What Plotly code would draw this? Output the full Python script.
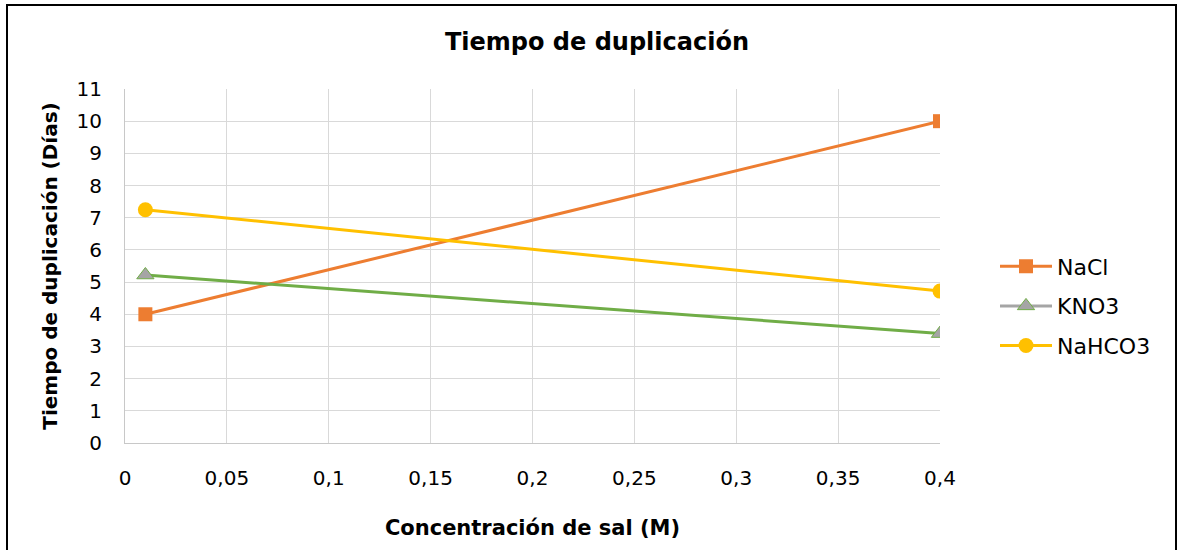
import plotly.graph_objects as go

x_vals = [0.01, 0.4]
nacl = [4.0, 10.0]
kno3 = [5.22, 3.4]
nahco3 = [7.25, 4.72]

title_text = "Tiempo de duplicación"
x_title = "Concentración de sal (M)"
y_title = "Tiempo de duplicación (Días)"

ORANGE = "#ED7D31"
GRAY = "#A5A5A5"
YELLOW = "#FFC000"
GREEN = "#70AD47"
FONT = "DejaVu Sans, Arial, sans-serif"

fig = go.Figure()
fig.add_trace(go.Scatter(x=x_vals, y=nacl, name="NaCl", mode="lines+markers",
                         legendgroup="a",
                         line=dict(color=ORANGE, width=3),
                         marker=dict(symbol="square", size=14, color=ORANGE)))
fig.add_trace(go.Scatter(x=x_vals, y=kno3, name="KNO3", mode="lines+markers",
                         legendgroup="b",
                         line=dict(color=GREEN, width=3), showlegend=False,
                         marker=dict(symbol="triangle-up", size=15, color=GRAY,
                                     line=dict(color=GREEN, width=1))))
fig.add_trace(go.Scatter(x=[None], y=[None], name="KNO3", mode="lines+markers",
                         legendgroup="b",
                         line=dict(color=GRAY, width=3),
                         marker=dict(symbol="triangle-up", size=15, color=GRAY,
                                     line=dict(color=GREEN, width=1))))
fig.add_trace(go.Scatter(x=x_vals, y=nahco3, name="NaHCO3", mode="lines+markers",
                         legendgroup="c",
                         line=dict(color=YELLOW, width=3),
                         marker=dict(symbol="circle", size=15, color=YELLOW)))

L, R, T, B = 125, 248, 89, 107
W, H = 1188, 550
pw, ph = W - L - R, H - T - B

def px(xp):
    return (xp - L) / pw

def py(yp):
    return (H - B - yp) / ph

fig.add_shape(type="rect", xref="paper", yref="paper",
              x0=px(7), x1=px(1176), y0=py(556), y1=py(5),
              line=dict(color="black", width=2), fillcolor="rgba(0,0,0,0)",
              layer="below")

fig.update_layout(
    width=W, height=H,
    margin=dict(l=L, r=R, t=T, b=B),
    paper_bgcolor="white", plot_bgcolor="white",
    separators=", ",
    font=dict(family=FONT, size=20, color="black"),
    title=dict(text="<b>" + title_text + "</b>", x=px(597), xref="paper",
               xanchor="center", y=1 - 42 / H, yanchor="middle",
               font=dict(size=24, family=FONT, color="black")),
    xaxis=dict(range=[0, 0.4], dtick=0.05, tick0=0, showgrid=True,
               gridcolor="#D9D9D9", gridwidth=1, showline=True,
               linecolor="#C8C8C8", linewidth=1, zeroline=False,
               ticks="", ticklabelstandoff=17,
               tickfont=dict(size=20, family=FONT),
               title=dict(text="<b>" + x_title + "</b>", standoff=31,
                          font=dict(size=21, family=FONT))),
    yaxis=dict(range=[0, 11], dtick=1, showgrid=True,
               gridcolor="#D9D9D9", gridwidth=1, showline=True,
               linecolor="#C8C8C8", linewidth=1, zeroline=False,
               ticks="", ticklabelstandoff=18,
               tickfont=dict(size=20, family=FONT),
               title=dict(text="<b>" + y_title + "</b>", standoff=13,
                          font=dict(size=20, family=FONT))),
    legend=dict(x=px(995), xanchor="left", y=py(306), yanchor="middle",
                font=dict(size=22, family=FONT), bgcolor="rgba(0,0,0,0)",
                traceorder="grouped", tracegroupgap=8, itemwidth=52),
)

fig.write_html("out.html", config={"displayModeBar": False},
               post_script="document.body.style.margin='0';")
